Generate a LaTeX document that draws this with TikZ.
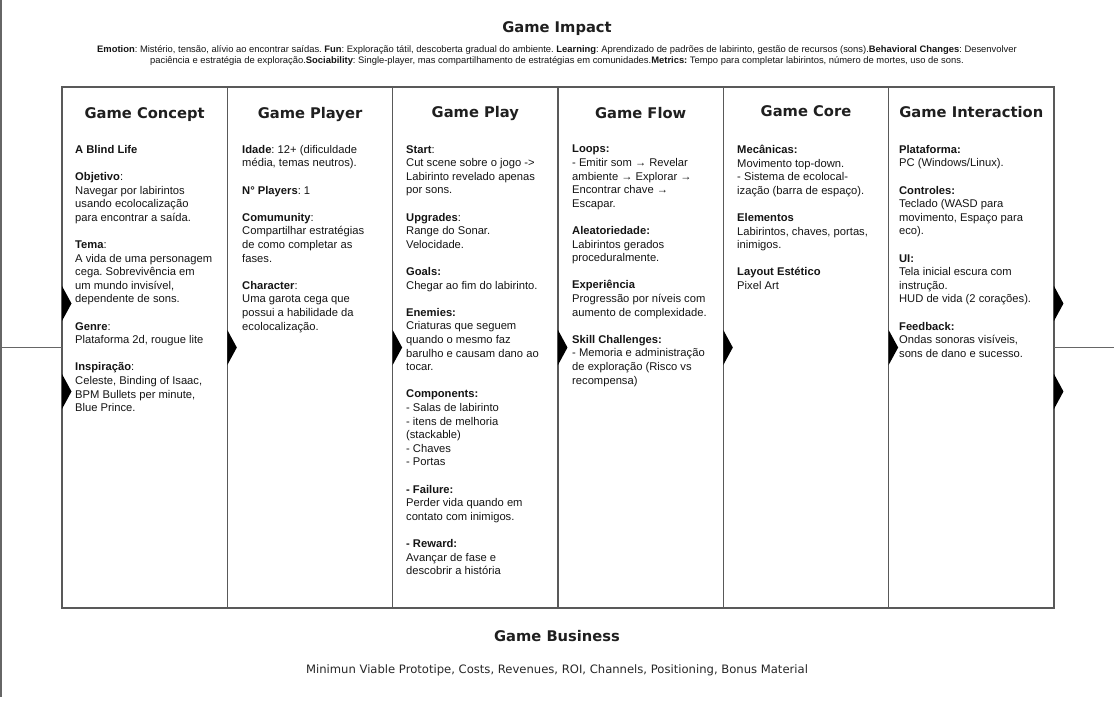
\documentclass[tikz,border=0pt]{standalone}
\usepackage{fontspec}
\setmainfont{Liberation Sans}
\newfontfamily\headfont{DejaVu Sans}
\usetikzlibrary{positioning}
\newcommand{\secgap}{\\[13.6pt]}
\frenchspacing

\begin{document}
\begin{tikzpicture}[x=1pt, y=-1pt,
  panel/.style={draw=black!65, line width=1.6pt, minimum width=165.33pt,
    minimum height=521pt, inner sep=0pt, outer sep=0pt},
  colhead/.style={font=\headfont\bfseries\fontsize{14.7}{17}\selectfont, text=black!88,
    anchor=base},
  colbody/.style={font=\fontsize{11.2}{13.6}\selectfont, align=left,
    anchor=north west, inner sep=0pt, text=black!92},
  notch/.style={fill=black},
  rail/.style={draw=black!60, line width=1.2pt}]
\useasboundingbox (0,0) rectangle (1114,727);
\node[colhead] (impact) at (557,32.5) {Game Impact};
\node[font=\fontsize{9.4}{11}\selectfont, align=center, text=black!92] (impactB) at (557,55.5)
  {\textbf{Emotion}: Mistério, tensão, alívio ao encontrar saídas. \textbf{Fun}: Exploração tátil, descoberta gradual do ambiente. \textbf{Learning}: Aprendizado de padrões de labirinto, gestão de recursos (sons).\textbf{Behavioral Changes}: Desenvolver\\
   paciência e estratégia de exploração.\textbf{Sociability}: Single-player, mas compartilhamento de estratégias em comunidades.\textbf{Metrics:} Tempo para completar labirintos, número de mortes, uso de sons.};
\node[panel, anchor=north west] (concept) at (62,87) {};
\node[panel, right=0pt of concept] (player) {};
\node[panel, right=0pt of player] (play) {};
\node[panel, right=0pt of play] (flow) {};
\node[panel, right=0pt of flow] (core) {};
\node[panel, right=0pt of core] (interaction) {};
\node[colhead] (conceptT) at ([yshift=-31.5pt]concept.north) {Game Concept};
\node[colhead] (playerT) at ([yshift=-31.5pt]player.north) {Game Player};
\node[colhead] (playT) at ([yshift=-31pt]play.north) {Game Play};
\node[colhead] (flowT) at ([yshift=-32pt]flow.north) {Game Flow};
\node[colhead] (coreT) at ([yshift=-30pt]core.north) {Game Core};
\node[colhead] (interactionT) at ([yshift=-31pt]interaction.north) {Game Interaction};
\node[colbody] (conceptB) at ([xshift=13pt, yshift=-58pt]concept.north west)
  {\textbf{A Blind Life}\secgap
   \textbf{Objetivo}:\\ Navegar por labirintos\\ usando ecolocalização\\ para encontrar a saída.\secgap
   \textbf{Tema}:\\ A vida de uma personagem\\ cega. Sobrevivência em\\ um mundo invisível,\\ dependente de sons.\secgap
   \textbf{Genre}:\\ Plataforma 2d, rougue lite\secgap
   \textbf{Inspiração}:\\ Celeste, Binding of Isaac,\\ BPM Bullets per minute,\\ Blue Prince.};
\node[colbody] (playerB) at ([xshift=14.7pt, yshift=-58pt]player.north west)
  {\textbf{Idade}: 12+ (dificuldade\\ média, temas neutros).\secgap
   \textbf{N° Players}: 1\secgap
   \textbf{Comumunity}:\\ Compartilhar estratégias\\ de como completar as\\ fases.\secgap
   \textbf{Character}:\\ Uma garota cega que\\ possui a habilidade da\\ ecolocalização.};
\node[colbody] (playB) at ([xshift=13.3pt, yshift=-58pt]play.north west)
  {\textbf{Start}:\\ Cut scene sobre o jogo ->\\ Labirinto revelado apenas\\ por sons.\secgap
   \textbf{Upgrades}:\\ Range do Sonar.\\ Velocidade.\secgap
   \textbf{Goals:}\\ Chegar ao fim do labirinto.\secgap
   \textbf{Enemies:}\\ Criaturas que seguem\\ quando o mesmo faz\\ barulho e causam dano ao\\ tocar.\secgap
   \textbf{Components:}\\ - Salas de labirinto\\ - itens de melhoria\\ (stackable)\\ - Chaves\\ - Portas\secgap
   \textbf{- Failure:}\\ Perder vida quando em\\ contato com inimigos.\secgap
   \textbf{- Reward:}\\ Avançar de fase e\\ descobrir a história};
\node[colbody] (flowB) at ([xshift=14pt, yshift=-58pt]flow.north west)
  {\textbf{Loops:}\\ - Emitir som → Revelar\\ ambiente → Explorar →\\ Encontrar chave →\\ Escapar.\secgap
   \textbf{Aleatoriedade:}\\ Labirintos gerados\\ proceduralmente.\secgap
   \textbf{Experiência}\\ Progressão por níveis com\\ aumento de complexidade.\secgap
   \textbf{Skill Challenges:}\\ - Memoria e administração\\ de exploração (Risco vs\\ recompensa)};
\node[colbody] (coreB) at ([xshift=13.7pt, yshift=-58pt]core.north west)
  {\textbf{Mecânicas:}\\ Movimento top-down.\\ - Sistema de ecolocal-\\ ização (barra de espaço).\secgap
   \textbf{Elementos}\\ Labirintos, chaves, portas,\\ inimigos.\secgap
   \textbf{Layout Estético}\\ Pixel Art};
\node[colbody] (interactionB) at ([xshift=10.3pt, yshift=-58pt]interaction.north west)
  {\textbf{Plataforma:}\\ PC (Windows/Linux).\secgap
   \textbf{Controles:}\\ Teclado (WASD para\\ movimento, Espaço para\\ eco).\secgap
   \textbf{UI:}\\ Tela inicial escura com\\ instrução.\\ HUD de vida (2 corações).\secgap
   \textbf{Feedback:}\\ Ondas sonoras visíveis,\\ sons de dano e sucesso.};
\node[colhead] (business) at (557,641) {Game Business};
\node[font=\headfont\fontsize{11.6}{14}\selectfont, text=black!85] (businessB) at (557,670)
  {Minimun Viable Prototipe, Costs, Revenues, ROI, Channels, Positioning, Bonus Material};
\coordinate (railTop) at (1,0);
\coordinate (railBot) at (1,697);
\coordinate (railL) at (1,347.5);
\coordinate (railR) at (1114,347.5);
\draw[rail] (railTop) -- (railBot);
\draw[rail] (railL) -- (concept.west) (interaction.east) -- (railR);
\foreach \col in {player, play, flow, core, interaction}
  \fill[notch] ([yshift=17.5pt]\col.west) -- ++(9.5,17.5) -- ++(-9.5,17.5) -- cycle;
\foreach \col/\side in {concept/west, interaction/east}
  \foreach \dy in {-44, 44}
    \fill[notch] ([yshift=\dy pt+17.5pt]\col.\side) -- ++(9.5,17.5) -- ++(-9.5,17.5) -- cycle;
\end{tikzpicture}
\end{document}
